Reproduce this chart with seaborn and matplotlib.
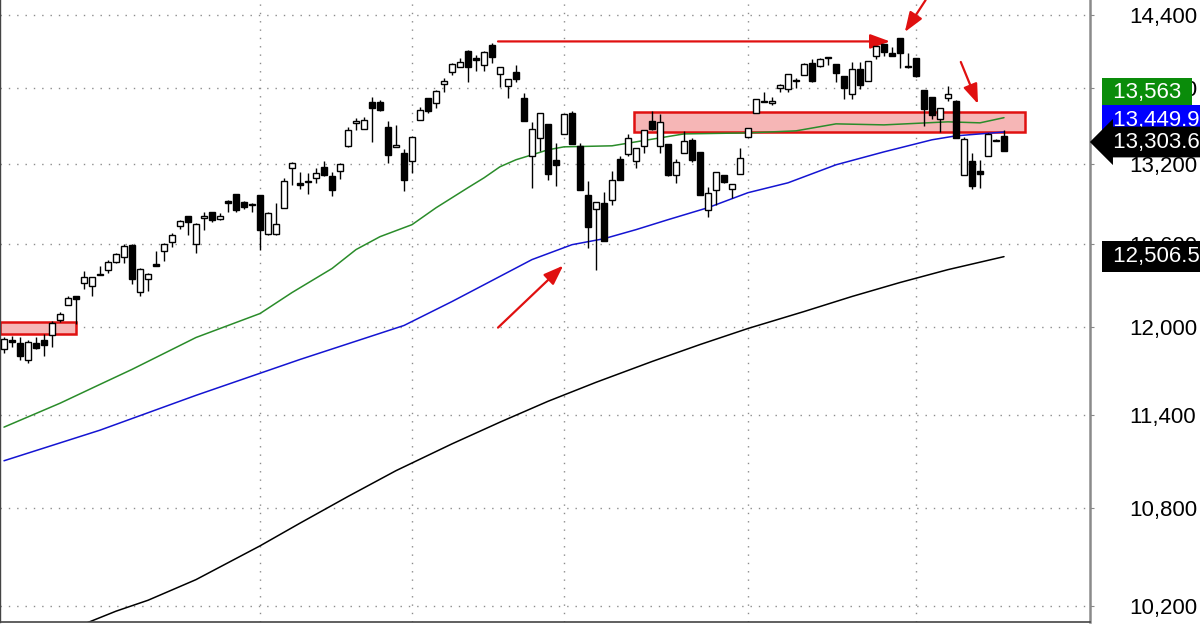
import numpy as np
import pandas as pd
import matplotlib
matplotlib.use('Agg')
import matplotlib.pyplot as plt
from matplotlib.patches import Rectangle
from matplotlib.ticker import NullLocator
import seaborn as sns

# daily candles, mid Nov 2020 -> 18 May 2021
opens = [11847, 11914, 11893, 11774, 11893, 11914, 11944, 12054, 12159, 12220,
         12317, 12293, 12382, 12408, 12465, 12504, 12593, 12249, 12341, 12451,
         12545, 12612, 12731, 12809, 12600, 12790, 12834, 12785, 12916, 12972,
         12914, 12899, 12961, 12673, 12673, 12866, 13170, 13055, 13063, 13093,
         13177, 13106, 13149, 13342, 13524, 13477, 13691, 13688, 13493, 13331,
         13285, 13223, 13546, 13722, 13678, 13832, 13932, 13968, 14103, 14041,
         13987, 14150, 13914, 13817, 13933, 13718, 13261, 13405, 13515, 13234,
         13431, 13603, 13342, 12961, 12859, 12906, 12924, 13241, 13281, 13228,
         13343, 13533, 13343, 13355, 13119, 13286, 13389, 13293, 12848, 13004,
         13113, 13012, 13126, 13414, 13600, 13686, 13677, 13798, 13794, 13862,
         13905, 14006, 13976, 14042, 13995, 13900, 13750, 13951, 13859, 14057,
         14159, 14088, 14206, 13975, 14040, 13784, 13731, 13553, 13718, 13696,
         13118, 13221, 13151, 13261, 13390, 13420]
highs = [11932, 11937, 11932, 11914, 11932, 11956, 12044, 12112, 12224, 12224,
         12401, 12360, 12437, 12485, 12533, 12600, 12600, 12425, 12389, 12545,
         12610, 12683, 12773, 12809, 12752, 12838, 12838, 12826, 12923, 12975,
         12920, 12902, 12961, 12835, 12904, 13093, 13215, 13136, 13131, 13169,
         13221, 13136, 13210, 13488, 13558, 13567, 13731, 13700, 13540, 13506,
         13316, 13422, 13651, 13722, 13784, 13884, 14000, 14041, 14109, 14068,
         14103, 14170, 13968, 13870, 13987, 13758, 13525, 13603, 13515, 13362,
         13595, 13619, 13362, 13070, 12915, 12988, 13145, 13265, 13433, 13324,
         13462, 13616, 13590, 13360, 13239, 13454, 13402, 13296, 13025, 13137,
         13113, 13048, 13324, 13480, 13712, 13770, 13731, 13835, 13911, 13880,
         14006, 14033, 14045, 14052, 13995, 13900, 14011, 14011, 14022, 14142,
         14159, 14137, 14206, 14084, 14045, 13784, 13731, 13638, 13819, 13700,
         13413, 13285, 13234, 13441, 13392, 13467]
lows = [11820, 11862, 11776, 11757, 11851, 11800, 11867, 12037, 12159, 12026,
        12274, 12226, 12372, 12389, 12461, 12461, 12305, 12226, 12257, 12441,
        12478, 12576, 12710, 12663, 12536, 12705, 12765, 12773, 12836, 12834,
        12860, 12834, 12558, 12665, 12662, 12866, 13042, 13010, 12974, 13055,
        13106, 12954, 13088, 13335, 13467, 13477, 13375, 13615, 13208, 13330,
        12991, 13134, 13546, 13598, 13638, 13771, 13905, 13968, 13851, 13940,
        13940, 14006, 13811, 13723, 13851, 13535, 13017, 13305, 13075, 13029,
        13431, 13358, 13004, 12570, 12412, 12618, 12891, 13075, 13260, 13170,
        13290, 13467, 13290, 13108, 13055, 13286, 13215, 12962, 12799, 12891,
        13055, 12944, 13126, 13414, 13598, 13686, 13664, 13767, 13767, 13800,
        13905, 13851, 13970, 13987, 13851, 13712, 13712, 13792, 13859, 14036,
        14057, 14057, 13960, 13960, 13890, 13498, 13553, 13453, 13699, 13402,
        13118, 13009, 13017, 13261, 13378, 13306]
closes = [11921, 11900, 11800, 11902, 11855, 11879, 12033, 12096, 12205, 12201,
          12360, 12357, 12372, 12468, 12526, 12586, 12341, 12413, 12382, 12441,
          12600, 12664, 12768, 12760, 12745, 12809, 12773, 12809, 12904, 12849,
          12874, 12890, 12705, 12829, 12749, 13068, 13208, 13040, 13073, 13131,
          13118, 13004, 13201, 13467, 13540, 13546, 13643, 13625, 13272, 13347,
          13077, 13410, 13625, 13612, 13776, 13859, 13992, 14014, 13973, 14027,
          14095, 14055, 13968, 13870, 13874, 13535, 13472, 13603, 13126, 13195,
          13591, 13358, 13004, 12728, 12915, 12618, 13080, 13075, 13402, 13324,
          13462, 13475, 13528, 13113, 13218, 13381, 13234, 12966, 12979, 13137,
          13063, 13048, 13246, 13480, 13712, 13698, 13699, 13827, 13911, 13855,
          13997, 13857, 14039, 14050, 13919, 13796, 13951, 13825, 14022, 14142,
          14091, 14057, 14084, 13968, 13897, 13633, 13585, 13638, 13752, 13402,
          13392, 13029, 13125, 13433, 13380, 13303.6]

# moving averages, sampled along the chart (candle index, value)
ma50_idx = [0, 7, 12, 16, 24, 32, 36, 41, 44, 47, 51, 54, 58, 60, 62, 64, 66,
            68, 70, 76, 82, 85, 93, 99, 104, 110, 118, 122, 125]
ma50_val = [11322, 11481, 11608, 11710, 11930, 12098, 12247, 12420, 12558, 12653,
            12742, 12868, 13020, 13095, 13180, 13234, 13272, 13311, 13334, 13342,
            13404, 13435, 13443, 13459, 13514, 13506, 13530, 13522, 13563]
ma100_idx = [0, 12, 24, 37, 50, 56, 61, 66, 71, 75, 79, 83, 88, 93, 98, 104,
             110, 116, 119, 125]
ma100_val = [11102, 11302, 11534, 11778, 12014, 12183, 12333, 12485, 12594, 12638,
             12705, 12779, 12869, 12982, 13057, 13195, 13295, 13389, 13420, 13449.9]
ma200_idx = [0, 10, 14, 18, 24, 32, 37, 43, 49, 56, 62, 68, 74, 81, 87, 93,
             100, 106, 112, 118, 125]
ma200_val = [10010, 10093, 10169, 10234, 10358, 10564, 10705, 10873, 11038, 11212,
             11355, 11494, 11622, 11764, 11881, 11993, 12112, 12219, 12319, 12412,
             12506.5]

tick_vals = [10200, 10800, 11400, 12000, 12600, 13200, 13800, 14400]
month_starts = [32, 51, 70, 93, 114]

RED = '#e01010'
PINK = '#f6b6b6'

sns.set_style('white')
plt.rcParams['font.family'] = ['Liberation Sans', 'DejaVu Sans']

fig = plt.figure(figsize=(12, 6.3), dpi=100)
ax = fig.add_axes([0, 8 / 630, 1090 / 1200, 622 / 630])
ax.set_yscale('log')

df = pd.DataFrame({'open': opens, 'high': highs, 'low': lows, 'close': closes})
df['idx'] = np.arange(len(df))
up = df['close'] >= df['open']
body_lo = np.minimum(df['open'], df['close'])
body_hi = np.maximum(df['open'], df['close'])

# support / resistance zones
ax.add_patch(Rectangle((-0.5, 11956), 9.5, 12040 - 11956, fc=PINK, ec=RED, lw=1.8, zorder=1))
ax.add_patch(Rectangle((78.75, 13449), 48.85, 13607 - 13449, fc=PINK, ec=RED, lw=1.8, zorder=1))

sns.lineplot(x=ma200_idx, y=ma200_val, color='black', linewidth=1.1, ax=ax, zorder=2)
sns.lineplot(x=ma100_idx, y=ma100_val, color='#1414d2', linewidth=1.1, ax=ax, zorder=2)
sns.lineplot(x=ma50_idx, y=ma50_val, color='#2a8c2a', linewidth=1.1, ax=ax, zorder=2)

ax.vlines(df['idx'], df['low'], df['high'], color='black', lw=1, zorder=3)
ax.bar(df['idx'], body_hi - body_lo, bottom=body_lo, width=0.72,
       color=np.where(up, 'white', 'black'), edgecolor='black', linewidth=1, zorder=4)

ax.set_xlim(-0.5, 135.75)
ax.set_ylim(10105, 14527)
ax.yaxis.tick_right()
ax.set_yticks(tick_vals)
ax.set_yticklabels([f'{v:,}' for v in tick_vals])
ax.yaxis.set_minor_locator(NullLocator())
ax.set_xticks(month_starts)
ax.set_xticklabels([])
ax.tick_params(axis='y', length=3, pad=25, labelsize=16, color='#888888', labelcolor='black')
ax.tick_params(axis='x', direction='out', length=6, color='#555555')
ax.grid(True, color='#8c8c8c', linestyle=(0, (1, 5)), linewidth=1)
ax.set_xlabel('')
ax.set_ylabel('')
ax.spines['top'].set_visible(False)
ax.spines['right'].set_color('#8a8a8a')
ax.spines['right'].set_linewidth(1.8)
ax.spines['bottom'].set_color('#444444')
ax.spines['bottom'].set_linewidth(1.2)
ax.spines['left'].set_color('#444444')
ax.spines['left'].set_linewidth(1)

# red arrows
arrow = dict(arrowstyle='-|>,head_length=0.6,head_width=0.22', color=RED, lw=1.6,
             mutation_scale=20, shrinkA=0, shrinkB=0)
ax.annotate('', xy=(110.75, 14180), xytext=(61.75, 14180), arrowprops=arrow)
ax.annotate('', xy=(112.6, 14258), xytext=(115.2, 14526), arrowprops=arrow, annotation_clip=False)
ax.annotate('', xy=(121.75, 13672), xytext=(119.6, 14011), arrowprops=arrow)
ax.annotate('', xy=(69.9, 12441), xytext=(61.75, 11999), arrowprops=arrow)


def tag(value, text, face, dy, style='square'):
    ax.annotate(f' {text} ', xy=(1, value), xycoords=ax.get_yaxis_transform(),
                xytext=(12, dy), textcoords='offset points', ha='left', va='center',
                color='white', fontsize=16,
                bbox=dict(boxstyle=f'{style},pad=0.22', fc=face, ec='none'),
                annotation_clip=False, zorder=10)


tag(ma50_val[-1], f'{ma50_val[-1]:,.0f}', '#0a8c0a', 17.8)
tag(ma100_val[-1], f'{ma100_val[-1]:,.1f}', '#0000ff', 8.3)
tag(closes[-1], f'{closes[-1]:,.1f}', 'black', 6.3, style='larrow')
tag(ma200_val[-1], f'{ma200_val[-1]:,.1f}', 'black', 0)

fig.savefig('out.png', dpi=100)
